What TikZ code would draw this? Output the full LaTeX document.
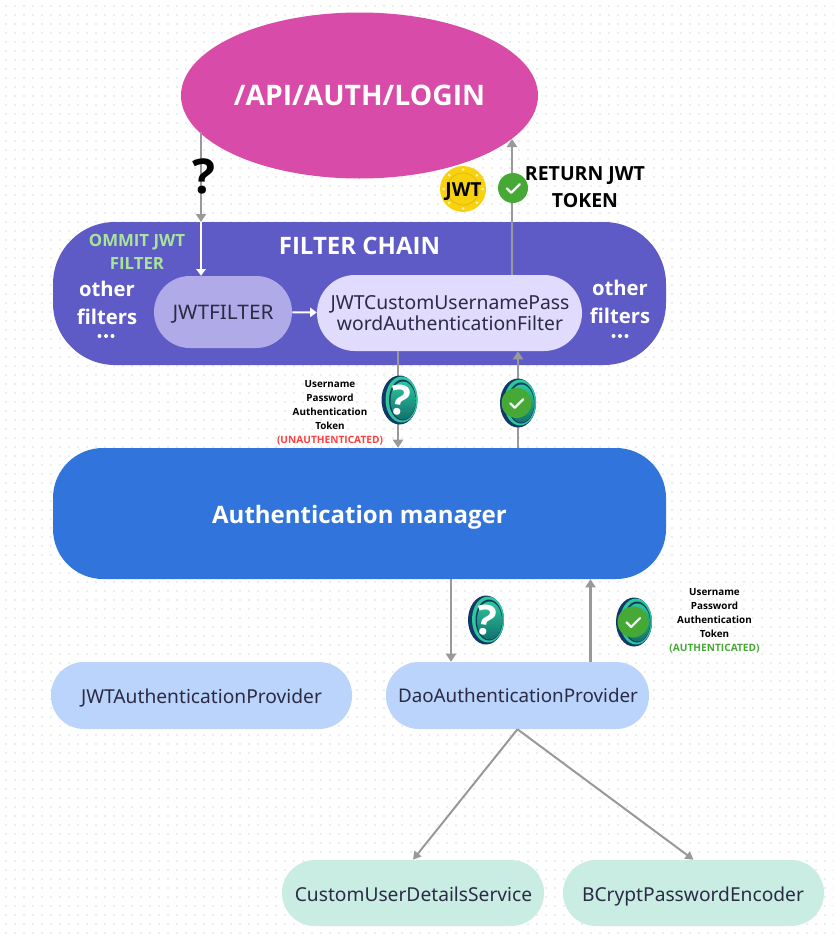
\documentclass[tikz,border=0pt]{standalone}
\usepackage{fontspec}
\setmainfont{Open Sans}
\newfontfamily\nodefont{Noto Sans}
\usetikzlibrary{arrows.meta,calc,shapes.geometric}
\definecolor{pinkc}{HTML}{D94BA9}
\definecolor{chainc}{HTML}{5F5BC6}
\definecolor{jwtc}{HTML}{B0ABE8}
\definecolor{customc}{HTML}{E1DBFD}
\definecolor{mgrc}{HTML}{3074DC}
\definecolor{provc}{HTML}{BAD4FC}
\definecolor{svcc}{HTML}{C9EDE3}
\definecolor{arrowc}{HTML}{999999}
\definecolor{checkc}{HTML}{46A935}
\definecolor{omitc}{HTML}{A8E59A}
\definecolor{coinc}{HTML}{F9D20F}
\definecolor{tealc}{HTML}{12806F}
\definecolor{lighttealc}{HTML}{2CC79A}
\definecolor{navyc}{HTML}{123868}
\definecolor{dotc}{HTML}{EDEDED}
\definecolor{darktxt}{HTML}{2B2B45}
\tikzset{
  x=0.75pt,y=-0.75pt,
  pillbox/.style n args={3}{rectangle,rounded corners=#1*0.75pt,minimum width=#2*0.75pt,minimum height=#3*0.75pt,inner sep=0pt,text centered},
  greyarrow/.style={draw=arrowc,line width=1.6pt,-{Triangle[length=6pt,width=7.5pt]}},
  thinarrow/.style={draw=arrowc,line width=1.5pt,-{Triangle[length=6pt,width=6.5pt]}},
  whitearrow/.style={draw=white,line width=1.5pt,-{Triangle[length=5pt,width=7pt]}},
  boxtext/.style={font=\nodefont\fontsize{14.4}{17}\selectfont,text=darktxt,text depth=0pt,yshift=-1pt},
  smalllabel/.style={font=\bfseries\fontsize{7.4}{10.5}\selectfont,align=center,text=black},
  whitelabel/.style={font=\bfseries\fontsize{15.2}{21}\selectfont,align=center,text=white},
}
\newcommand{\tokenbase}[1]{% centre
  \begin{scope}[shift={(#1)}]
    \fill[navyc] (0,0) ellipse [x radius=18,y radius=24.5];
    \fill[lighttealc] (2,-0.5) ellipse [x radius=16,y radius=23];
    \fill[navyc] (3,0) ellipse [x radius=13.5,y radius=20.5];
    \shade[top color=lighttealc,bottom color=tealc!80!navyc] (3.5,0.5) ellipse [x radius=12.5,y radius=19];
  \end{scope}
}
\newcommand{\checkdisc}[2]{%
  \fill[checkc] (#1) circle [radius=#2];
  \draw[white!92!checkc,line width=1.7pt,line cap=round,line join=round,shift={(#1)}] (-#2*0.42,#2*0.02) -- (-#2*0.12,#2*0.32) -- (#2*0.45,-#2*0.25);
}
\begin{document}
\begin{tikzpicture}
\useasboundingbox (0,0) rectangle (834,939);
\fill[white] (0,0) rectangle (834,939);
\foreach \j in {0,...,103}{
  \draw[dotc,line width=1.5pt,dash pattern=on 1.5pt off 5.25pt] (4.5,5.5+9*\j) -- (834,5.5+9*\j);}

% main shapes
\node[ellipse,fill=pinkc,minimum width=357*0.75pt,minimum height=166*0.75pt,inner sep=0pt,outer sep=0pt] (login) at (359.5,95.5) {};
\node[font=\bfseries\fontsize{21.2}{27}\selectfont,text=white] (logintxt) at (359.5,95.5) {/API/AUTH/LOGIN};

\node[pillbox={62}{613}{143},fill=chainc] (chain) at (359.5,293.5) {};
\node[pillbox={36}{138}{72},fill=jwtc] (jwtf) at (223,312) {};
\node[font=\nodefont\fontsize{15}{17}\selectfont,text=darktxt,xscale=1.04] (jwtft) at (223,314) {JWTFILTER};
\node[pillbox={38}{265}{76},fill=customc] (custom) at (449.5,313) {};
\node[font=\nodefont\fontsize{14.5}{16.2}\selectfont,text=darktxt,align=center] (customt) at (450,313) {JWTCustomUsernamePass\\wordAuthenticationFilter};
\node[pillbox={50}{613}{131},fill=mgrc] (mgr) at (359.5,513.5) {};
\node[font=\bfseries\fontsize{18}{20}\selectfont,text=white] (mgrt) at (359.5,517) {Authentication manager};
\node[pillbox={33}{301}{67},fill=provc] (jwtp) at (201.5,695.5) {};
\node[boxtext] (jwtpt) at (201.5,694.5) {JWTAuthenticationProvider};
\node[pillbox={33}{263}{67},fill=provc] (dao) at (517.5,695.5) {};
\node[boxtext,font=\nodefont\fontsize{14.1}{17}\selectfont] (daot) at (518,694.5) {DaoAuthenticationProvider};
\node[pillbox={33}{262}{66},fill=svcc] (cuds) at (413,893) {};
\node[boxtext] (cudst) at (413.5,892.5) {CustomUserDetailsService};
\node[pillbox={33}{261}{66},fill=svcc] (bcrypt) at (693.5,893) {};
\node[boxtext] (bcryptt) at (693,892.5) {BCryptPasswordEncoder};

\node[font=\bfseries\fontsize{18}{20}\selectfont,text=white] (chaint) at (359.5,246) {FILTER CHAIN};
\node[font=\bfseries\fontsize{12.6}{17.5}\selectfont,text=omitc,align=center] (omit) at (137,252) {OMMIT JWT\\FILTER};
\node[whitelabel] (o1) at (107,303) {other\\filters};
\node[whitelabel] (o2) at (620,301.5) {other\\filters};
\foreach \cx in {106,620}{\foreach \dx in {-6.5,0,6.5}{\fill[white] (\cx+\dx,336) circle [radius=2];}}

% connectors
\coordinate (a1s) at (201,132);
\coordinate (a1e) at (201,222);
\draw[greyarrow] (a1s) -- (a1e);
\draw[whitearrow] (a1e) -- (jwtf.north -| a1e);
\draw[whitearrow] (jwtf) -- (custom);
\coordinate (r1) at (512,0);
\draw[greyarrow] (custom.north -| r1) -- (512,139);
\coordinate (d1) at (398,0);
\draw[greyarrow] (custom.south -| d1) -- (mgr.north -| d1);
\coordinate (u1) at (518,0);
\draw[greyarrow] (mgr.north -| u1) -- (custom.south -| u1);
\coordinate (d2) at (451,0);
\draw[greyarrow] (mgr.south -| d2) -- (dao.north -| d2);
\coordinate (u2) at (590.5,0);
\draw[greyarrow] (dao.north -| u2) -- (mgr.south -| u2);
\draw[thinarrow] (dao.south) -- (cuds.north);
\draw[thinarrow] (dao.south) -- (bcrypt.north);

% question mark
\node[font=\bfseries\fontsize{36}{36}\selectfont,text=black] (q) at (203.5,176) {?};

% coin
\fill[coinc] (463,189) circle [radius=23];
\draw[black!12!coinc,line width=0.5pt] (463,189) circle [radius=16];
\foreach \a in {0,45,...,315}{\fill[white!70!coinc] ($(463,189)+(\a:19.5)$) circle [radius=1.5];}
\node[font=\bfseries\fontsize{14.5}{15}\selectfont,text=black] (jwtcoin) at (463.5,192) {JWT};

% green check
\checkdisc{513,188}{15}
\node[font=\bfseries\fontsize{14.6}{20.5}\selectfont,text=black,align=center] (ret) at (585,187) {RETURN JWT\\TOKEN};

% tokens
\tokenbase{399.5,400}
\node[font=\bfseries\fontsize{31}{31}\selectfont,text=white,rotate=-8] (q1) at (400,400) {?};
\tokenbase{518,403}
\checkdisc{516.5,403}{15}
\tokenbase{486,620}
\node[font=\bfseries\fontsize{31}{31}\selectfont,text=white,rotate=-8] (q2) at (486.5,620) {?};
\tokenbase{634,622}
\checkdisc{633,622}{15.5}

% token captions
\node[smalllabel] (cap1) at (330,413) {Username\\Password\\Authentication\\Token\\\textcolor{red!75!white}{\fontsize{7.6}{10.5}\selectfont (UNAUTHENTICATED)}};
\node[smalllabel] (cap2) at (714.5,621) {Username\\Password\\Authentication\\Token\\\textcolor{checkc}{\fontsize{7.6}{10.5}\selectfont (AUTHENTICATED)}};
\end{tikzpicture}
\end{document}
